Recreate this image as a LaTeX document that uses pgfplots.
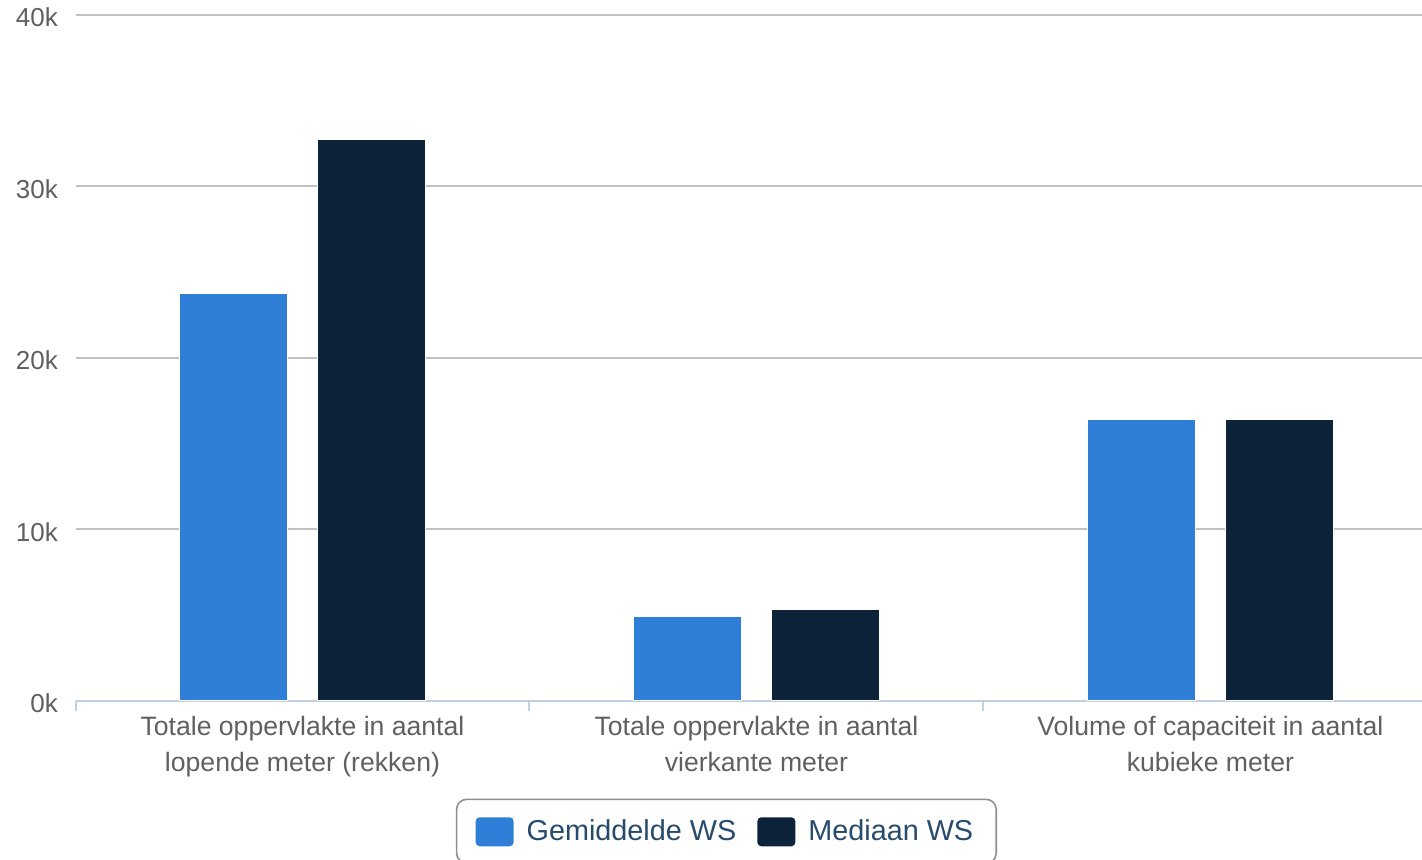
\documentclass[border=0pt]{standalone}
\usepackage{fontspec}
\setmainfont{Liberation Sans}
\usepackage{pgfplots}
\pgfplotsset{compat=1.18}
\definecolor{cblue}{HTML}{2F7ED8}
\definecolor{cnavy}{HTML}{0D233A}
\definecolor{gridcol}{HTML}{C0C0C0}
\definecolor{axiscol}{HTML}{C0D0E0}
\definecolor{labcol}{HTML}{606060}
\definecolor{legtext}{HTML}{274B6D}
\definecolor{legborder}{HTML}{909090}
\pgfplotsset{mysq/.style={legend image code/.code={\fill[##1,draw=none,rounded corners=2pt] (0pt,-7.5pt) rectangle (19pt,7pt);}}}
\begin{document}
\begin{tikzpicture}
\useasboundingbox (0,0) rectangle (711pt,429.5pt);
\begin{axis}[
  at={(37.75pt,79.25pt)}, anchor=south west,
  scale only axis,
  width=673pt, height=343pt,
  xmin=-0.5, xmax=2.465,
  ymin=0, ymax=40000,
  ybar=15pt, bar width=54pt,
  axis x line=bottom, axis y line=left,
  axis line style={-},
  x axis line style={draw=axiscol, line width=1pt},
  y axis line style={draw=none},
  ytick={0,10000,20000,30000,40000},
  yticklabels={0k,10k,20k,30k,40k},
  scaled y ticks=false,
  ytick style={draw=none},
  ymajorgrids, grid style={gridcol, line width=1pt},
  yticklabel style={font=\fontsize{13}{15}\selectfont, text=labcol, xshift=-1pt, yshift=-1.5pt},
  xtick={0,1,2},
  xticklabels={{Totale oppervlakte in aantal\\lopende meter (rekken)},{Totale oppervlakte in aantal\\vierkante meter},{Volume of capaciteit in aantal\\kubieke meter}},
  xticklabel style={font=\fontsize{13.3}{18}\selectfont, text=labcol, align=center, yshift=0pt},
  major x tick style={draw=none},
  minor xtick={-0.5,0.5,1.5},
  minor x tick style={draw=axiscol, line width=1pt},
  minor tick length=5pt,
  tick align=outside,
  every axis plot post/.append style={mysq},
  legend columns=2,
  legend style={at={(0.4836,-0.1429)}, anchor=north, draw=legborder, line width=0.8pt, rounded corners=5pt,
    font=\fontsize{14.4}{17}\selectfont, text=legtext, inner xsep=9.5pt, inner ysep=8pt,
    /tikz/every odd column/.append style={column sep=4.5pt},
    /tikz/every even column/.append style={column sep=8.5pt}},
]
\addplot[fill=cblue, draw=white, line width=0.5pt] coordinates {(0,23720) (1,4920) (2,16370)};
\addlegendentry{Gemiddelde WS}
\addplot[fill=cnavy, draw=white, line width=0.5pt] coordinates {(0,32710) (1,5330) (2,16370)};
\addlegendentry{Mediaan WS}
\end{axis}
\end{tikzpicture}
\end{document}
